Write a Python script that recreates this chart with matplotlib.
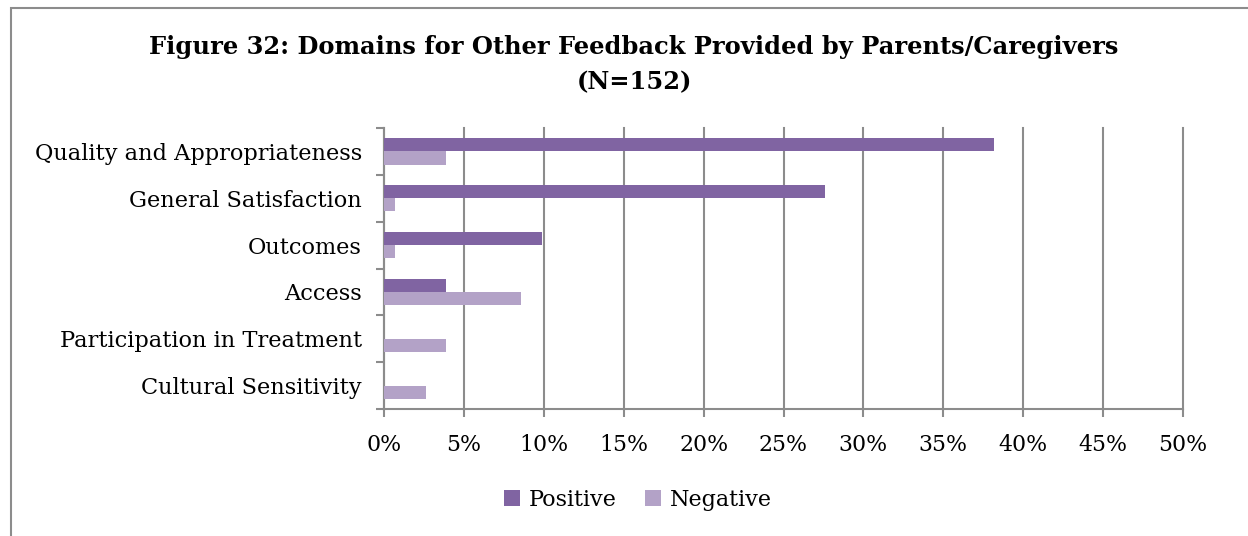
import matplotlib.pyplot as plt
import matplotlib.patches as patches
import numpy as np

# Data (percent of N=152)
categories = ['Quality and Appropriateness', 'General Satisfaction', 'Outcomes',
              'Access', 'Participation in Treatment', 'Cultural Sensitivity']
positive = [38.2, 27.6, 9.9, 3.9, 0.0, 0.0]
negative = [3.9, 0.7, 0.7, 8.6, 3.9, 2.6]
xticks = [0, 5, 10, 15, 20, 25, 30, 35, 40, 45, 50]

plt.rcParams['font.family'] = ['DejaVu Serif']

W, H = 1248, 536
fig = plt.figure(figsize=(W / 100, H / 100), dpi=100)
ax = fig.add_axes([384 / W, 1 - 409 / H, (1183 - 384) / W, (409 - 128) / H])

# outer chart border (cut off at right/bottom edge)
fig.patches.append(patches.Rectangle((11 / W, -0.1), 1.2, 1 - 8 / H + 0.1,
                                     transform=fig.transFigure, fill=False,
                                     edgecolor='#8c8c8c', linewidth=1.5))

n = len(categories)
y = np.arange(n)
bar_h = 0.28
pos_color = '#8064A2'
neg_color = '#B3A2C7'
ax.barh(y - bar_h / 2, positive, height=bar_h, color=pos_color, label='Positive', zorder=3)
ax.barh(y + bar_h / 2, negative, height=bar_h, color=neg_color, label='Negative', zorder=3)

ax.set_ylim(n - 0.5, -0.5)
ax.set_xlim(0, 50)

ax.set_yticks(y)
ax.set_yticklabels(categories, fontsize=16.2)
ax.set_yticks(np.arange(n + 1) - 0.5, minor=True)
ax.tick_params(axis='y', which='major', length=0, pad=16)
ax.tick_params(axis='y', which='minor', length=6, width=1.5, color='#8c8c8c', direction='out')

ax.set_xticks(xticks)
ax.set_xticklabels([f'{t}%' for t in xticks], fontsize=15.8)
ax.tick_params(axis='x', length=6, width=1.5, color='#8c8c8c', direction='out', pad=12)

ax.grid(axis='x', color='#8c8c8c', linewidth=1.5, zorder=0)
for gl in ax.get_xgridlines():
    gl.set_clip_on(False)
for s in ['top', 'right']:
    ax.spines[s].set_visible(False)
for s in ['left', 'bottom']:
    ax.spines[s].set_color('#8c8c8c')
    ax.spines[s].set_linewidth(1.5)

fig.text(634 / W, 1 - 65 / H,
         'Figure 32: Domains for Other Feedback Provided by Parents/Caregivers\n(N=152)',
         ha='center', va='center', fontsize=17.4, fontweight='bold', linespacing=1.6)

fig.legend(loc='center', bbox_to_anchor=(638 / W, 1 - 500 / H), ncol=2, frameon=False,
           fontsize=16, handlelength=0.7, handleheight=0.7, handletextpad=0.4,
           columnspacing=1.3)

fig.savefig('out.png', dpi=100)
